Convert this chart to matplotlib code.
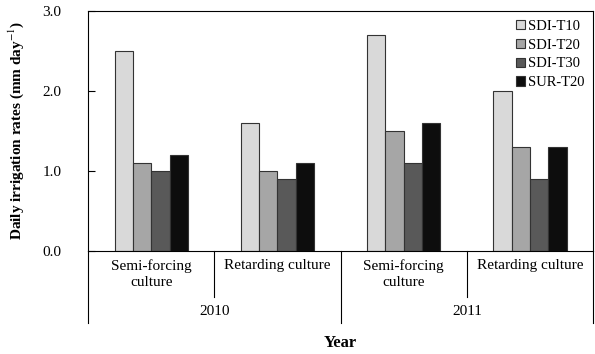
import matplotlib.pyplot as plt
import numpy as np

plt.rcParams['font.family'] = ['Liberation Serif', 'DejaVu Serif']
plt.rcParams['mathtext.fontset'] = 'stix'

# data
years = ['2010', '2011']
cultures = ['Semi-forcing\nculture', 'Retarding culture', 'Semi-forcing\nculture', 'Retarding culture']
series = ['SDI-T10', 'SDI-T20', 'SDI-T30', 'SUR-T20']
sdi_t10 = [2.5, 1.6, 2.7, 2.0]
sdi_t20 = [1.1, 1.0, 1.5, 1.3]
sdi_t30 = [1.0, 0.9, 1.1, 0.9]
sur_t20 = [1.2, 1.1, 1.6, 1.3]
colors = ['#d9d9d9', '#a6a6a6', '#595959', '#0d0d0d']

values = [sdi_t10, sdi_t20, sdi_t30, sur_t20]

fig = plt.figure(figsize=(5.95, 3.54), dpi=100)
ax = fig.add_axes([0.148, 0.291, 0.849, 0.678])

x = np.arange(len(cultures))
w = 0.145
for i in range(len(series)):
    ax.bar(x + (i - 1.5) * w, values[i], w, color=colors[i], edgecolor='#333333',
           linewidth=0.8, label=series[i])

ax.set_xlim(-0.5, 3.5)
ax.set_ylim(0, 3.0)
ax.set_yticks([0, 1, 2, 3])
ax.set_yticklabels(['0.0', '1.0', '2.0', '3.0'], fontsize=11)
ax.tick_params(axis='y', direction='in', length=5, pad=19)
ax.set_xticks([])
for s in ax.spines.values():
    s.set_linewidth(0.8)

# category labels and separators below the axis
tr = ax.get_xaxis_transform()
for i, c in enumerate(cultures):
    ax.text(x[i], -0.035, c, transform=tr, ha='center', va='top', fontsize=11,
            linespacing=1.3)
for b in [0.5, 2.5]:
    ax.plot([b, b], [0, -0.19], transform=tr, color='black', lw=0.8, clip_on=False)
for b in [-0.5, 1.5, 3.5]:
    ax.plot([b, b], [0, -0.30], transform=tr, color='black', lw=0.8, clip_on=False)
for j, y in enumerate(years):
    ax.text(0.5 + 2 * j, -0.225, y, transform=tr, ha='center', va='top', fontsize=11)

ax.set_ylabel('Daily irrigation rates (mm day$^{-1}$)', fontsize=11, fontweight='bold',
              labelpad=12)
fig.text(0.571, 0.008, 'Year', ha='center', va='bottom', fontsize=12, fontweight='bold')

ax.legend(loc='upper right', frameon=False, fontsize=10.5, handlelength=0.6, handleheight=0.6,
          handletextpad=0.2, labelspacing=0.4, borderaxespad=0.2)

fig.savefig('out.png', dpi=100)
